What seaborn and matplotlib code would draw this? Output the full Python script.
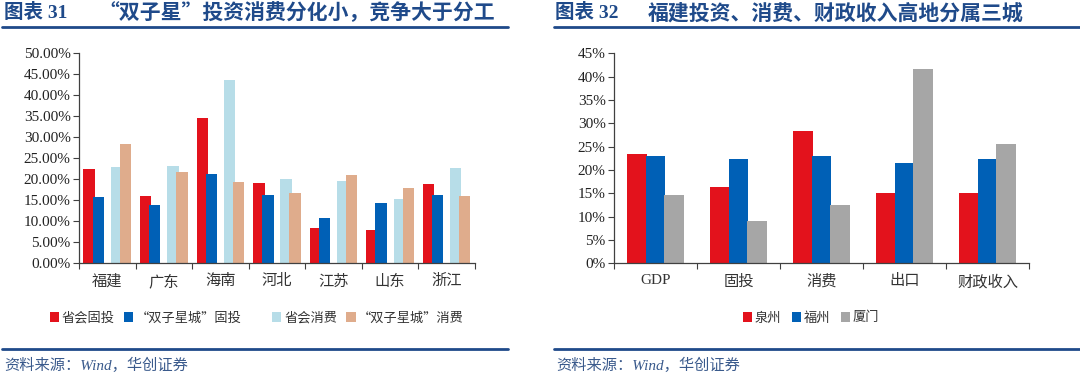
"""Two grouped bar charts: provincial capital vs. 'twin star' city, and Fujian city shares."""
import matplotlib
matplotlib.use('Agg')
from matplotlib import pyplot as plt
from matplotlib.patches import Patch
from matplotlib.lines import Line2D
from matplotlib.ticker import FuncFormatter, FixedLocator
import numpy as np
import pandas as pd
import seaborn as sns

# left chart data (%)
provinces = ['福建', '广东', '海南', '河北', '江苏', '山东', '浙江']
cap_invest = [22.4, 16.0, 34.6, 19.2, 8.3, 8.0, 19.0]
twin_invest = [15.9, 14.0, 21.2, 16.3, 10.7, 14.3, 16.3]
cap_consume = [22.9, 23.1, 43.6, 20.0, 19.7, 15.4, 22.6]
twin_consume = [28.3, 21.7, 19.4, 16.8, 21.0, 18.0, 16.1]
left_series = ['省会固投', '“双子星城”固投', ' ', '省会消费', '“双子星城”消费']

# right chart data (%)
metrics = ['GDP', '固投', '消费', '出口', '财政收入']
quanzhou = [23.4, 16.3, 28.4, 15.0, 15.0]
fuzhou = [23.1, 22.4, 22.9, 21.6, 22.3]
xiamen = [14.7, 9.1, 12.6, 41.6, 25.6]
right_series = ['泉州', '福州', '厦门']

RED = '#E3121C'
BLUE = '#0060B6'
LIGHT = '#B7DDE8'
TAN = '#DFAC8C'
GRAY = '#A6A6A6'
NAVY = '#1F4A8A'

sns.set_theme(style='white')
plt.rcParams['font.family'] = ['Liberation Serif', 'Noto Sans CJK SC', 'DejaVu Sans']
plt.rcParams['axes.unicode_minus'] = False

CJK = ['Noto Sans CJK SC', 'Liberation Serif']


def widen(ax, new_w):
    for p in ax.patches:
        w = p.get_width()
        p.set_x(p.get_x() - (new_w - w) / 2)
        p.set_width(new_w)


def style_axes(ax, ncat, ymax, step, fmt):
    ax.set_xlim(-0.5, ncat - 0.5)
    ax.set_ylim(0, ymax)
    ax.set_yticks(np.arange(0, ymax + 0.01, step))
    ax.yaxis.set_major_formatter(FuncFormatter(fmt))
    ax.xaxis.set_minor_locator(FixedLocator(np.arange(-0.5, ncat, 1.0)))
    ax.tick_params(axis='x', which='major', length=0, labelsize=11, pad=8,
                   colors='#333333')
    ax.tick_params(axis='x', which='minor', length=4, width=0.8, color='#404040',
                   direction='out', bottom=True)
    ax.tick_params(axis='y', length=4, width=0.8, color='#404040', direction='out',
                   left=True, labelsize=11, pad=2, labelcolor='#222222')
    for s in ['top', 'right']:
        ax.spines[s].set_visible(False)
    for s in ['left', 'bottom']:
        ax.spines[s].set_color('#404040')
        ax.spines[s].set_linewidth(0.9)
    ax.set_xlabel('')
    ax.set_ylabel('')
    for lab in ax.get_xticklabels():
        lab.set_family(['Liberation Serif', 'Noto Sans CJK SC'])


def main():
    fig = plt.figure(figsize=(10.8, 3.75), dpi=100)

    # ---- left chart
    left_df = pd.DataFrame({
        'province': provinces * 5,
        'series': np.repeat(left_series, len(provinces)),
        'value': cap_invest + twin_invest + [0] * len(provinces) + cap_consume + twin_consume,
    })
    ax1 = fig.add_axes([0.0731, 0.2978, 0.3667, 0.5600])
    sns.barplot(data=left_df, x='province', y='value', hue='series',
                hue_order=left_series, order=provinces,
                palette=[RED, BLUE, 'white', LIGHT, TAN], width=0.8,
                saturation=1, linewidth=0, legend=False, ax=ax1)
    widen(ax1, 0.2)
    style_axes(ax1, len(provinces), 50, 5, lambda v, _: '{:.2f}%'.format(v))

    # ---- right chart
    right_df = pd.DataFrame({
        'metric': metrics * 3,
        'city': np.repeat(right_series, len(metrics)),
        'value': quanzhou + fuzhou + xiamen,
    })
    ax2 = fig.add_axes([0.5685, 0.2978, 0.3843, 0.5600])
    sns.barplot(data=right_df, x='metric', y='value', hue='city',
                hue_order=right_series, order=metrics,
                palette=[RED, BLUE, GRAY], width=0.675,
                saturation=1, linewidth=0, legend=False, ax=ax2)
    widen(ax2, 0.24)
    style_axes(ax2, len(metrics), 45, 5, lambda v, _: '{:.0f}%'.format(v))

    # ---- legends
    lh = [Patch(facecolor=c, edgecolor='none') for c in [RED, BLUE, 'none', LIGHT, TAN]]
    fig.legend(lh, ['省会固投', '“双子星城”固投', '', '省会消费', '“双子星城”消费'],
               loc='center', bbox_to_anchor=(0.238, 0.152), ncol=5, frameon=False,
               handlelength=0.7, handleheight=0.7, handletextpad=0.2,
               columnspacing=0.7, prop={'family': 'Noto Sans CJK SC', 'size': 9.5},
               labelcolor='#333333')
    rh = [Patch(facecolor=c, edgecolor='none') for c in [RED, BLUE, GRAY]]
    fig.legend(rh, right_series, loc='center', bbox_to_anchor=(0.751, 0.152), ncol=3,
               frameon=False, handlelength=0.7, handleheight=0.7, handletextpad=0.2,
               columnspacing=0.8, prop={'family': 'Noto Sans CJK SC', 'size': 9.5},
               labelcolor='#333333')

    # ---- titles, rules and sources
    num_font = {'family': ['Liberation Serif', 'Noto Sans CJK SC'], 'weight': 'bold',
                'size': 14, 'color': NAVY}
    title_font = {'family': CJK, 'weight': 'bold', 'size': 15, 'color': NAVY}
    fig.text(0.004, 0.966, '图表 31', va='center', ha='left', **num_font)
    fig.text(0.091, 0.966, '“双子星”投资消费分化小，竞争大于分工',
             va='center', ha='left', **title_font)
    fig.text(0.514, 0.966, '图表 32', va='center', ha='left', **num_font)
    fig.text(0.600, 0.966, '福建投资、消费、财政收入高地分属三城',
             va='center', ha='left', **title_font)

    for x0, x1 in [(0.002, 0.470), (0.513, 1.0)]:
        for y in (0.927, 0.069):
            fig.add_artist(Line2D([x0, x1], [y, y], color=NAVY, lw=2.0))

    src_font = {'family': ['Liberation Serif', 'Noto Sans CJK SC'], 'style': 'italic',
                'size': 11, 'color': '#3A5A8C'}
    fig.text(0.004, 0.027, '资料来源：Wind，华创证券', va='center', ha='left', **src_font)
    fig.text(0.515, 0.027, '资料来源：Wind，华创证券', va='center', ha='left', **src_font)

    fig.savefig('out.png', dpi=100)


if __name__ == '__main__':
    main()
